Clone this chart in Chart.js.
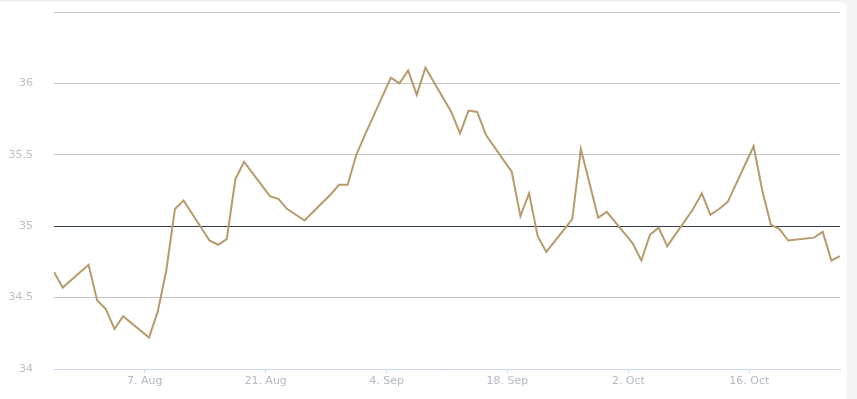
<!DOCTYPE html>
<html>
<head>
<meta charset="utf-8">
<script src="https://cdn.jsdelivr.net/npm/chart.js@4/dist/chart.umd.min.js"></script>
<style>
    html, body { margin: 0; padding: 0; background: #f4f4f4; }
    #card { position: absolute; left: 0; top: 2px; width: 847px; height: 397px; background: #fff; border-top-right-radius: 6px; }
    #wrap { position: absolute; left: 0; top: 0; width: 857px; height: 399px; }
</style>
</head>
<body>
<div id="card"></div>
<div id="wrap"><canvas id="chart" width="857" height="399"></canvas></div>
<script>
// Trading days and closing values
const dates = [
    '2017-07-27', '2017-07-28', '2017-07-31', '2017-08-01', '2017-08-02', '2017-08-03', '2017-08-04',
    '2017-08-07', '2017-08-08', '2017-08-09', '2017-08-10', '2017-08-11',
    '2017-08-14', '2017-08-15', '2017-08-16', '2017-08-17', '2017-08-18',
    '2017-08-21', '2017-08-22', '2017-08-23', '2017-08-24', '2017-08-25',
    '2017-08-28', '2017-08-29', '2017-08-30', '2017-08-31', '2017-09-01',
    '2017-09-04', '2017-09-05', '2017-09-06', '2017-09-07', '2017-09-08',
    '2017-09-11', '2017-09-12', '2017-09-13', '2017-09-14', '2017-09-15',
    '2017-09-18', '2017-09-19', '2017-09-20', '2017-09-21', '2017-09-22',
    '2017-09-25', '2017-09-26', '2017-09-27', '2017-09-28', '2017-09-29',
    '2017-10-02', '2017-10-03', '2017-10-04', '2017-10-05', '2017-10-06',
    '2017-10-09', '2017-10-10', '2017-10-11', '2017-10-12', '2017-10-13',
    '2017-10-16', '2017-10-17', '2017-10-18', '2017-10-19', '2017-10-20',
    '2017-10-23', '2017-10-24', '2017-10-25', '2017-10-26'
];
const values = [
    34.68, 34.57, 34.73, 34.48, 34.42, 34.28, 34.37,
    34.22, 34.40, 34.69, 35.12, 35.18,
    34.90, 34.87, 34.91, 35.33, 35.45,
    35.21, 35.19, 35.12, 35.08, 35.04,
    35.22, 35.29, 35.29, 35.50, 35.64,
    36.04, 36.00, 36.09, 35.92, 36.11,
    35.80, 35.65, 35.81, 35.80, 35.64,
    35.38, 35.07, 35.23, 34.93, 34.82,
    35.05, 35.54, 35.30, 35.06, 35.10,
    34.88, 34.76, 34.94, 34.99, 34.86,
    35.12, 35.23, 35.08, 35.12, 35.17,
    35.56, 35.25, 35.01, 34.98, 34.90,
    34.92, 34.96, 34.76, 34.79
];
const tickDates = ['2017-08-07', '2017-08-21', '2017-09-04', '2017-09-18', '2017-10-02', '2017-10-16'];
const yTicks = [34, 34.5, 35, 35.5, 36, 36.5];
const yLabels = ['34', '34.5', '35', '35.5', '36', ''];
const baseline = 35;

const DAY = 86400000;
const months = ['Jan', 'Feb', 'Mar', 'Apr', 'May', 'Jun', 'Jul', 'Aug', 'Sep', 'Oct', 'Nov', 'Dec'];

// days since epoch; data stamped at midday, ticks at midnight
function dayNum(str, hour) {
    return Date.parse(str + 'T00:00:00Z') / DAY + (hour || 0) / 24;
}

const points = dates.map((d, i) => ({ x: dayNum(d, 12), y: values[i] }));
const tickNums = tickDates.map(d => dayNum(d));

function fmtDay(v) {
    const d = new Date(Math.round(v) * DAY);
    return d.getUTCDate() + '. ' + months[d.getUTCMonth()];
}

new Chart(document.getElementById('chart'), {
    type: 'line',
    data: {
        datasets: [{
            data: points,
            borderColor: '#b89b6c',
            borderWidth: 2,
            pointRadius: 0,
            tension: 0,
            fill: false
        }]
    },
    options: {
        responsive: false,
        animation: false,
        events: [],
        layout: { padding: { left: 0, right: 17, top: 12, bottom: 0 } },
        plugins: { legend: { display: false }, tooltip: { enabled: false } },
        scales: {
            x: {
                type: 'linear',
                min: points[0].x,
                max: points[points.length - 1].x,
                afterBuildTicks: scale => { scale.ticks = tickNums.map(v => ({ value: v })); },
                afterFit: scale => { scale.height = 30; },
                grid: { drawOnChartArea: false, drawTicks: true, tickLength: 4, color: '#ccd6eb' },
                border: { color: '#ccd6eb', width: 1 },
                ticks: {
                    callback: v => fmtDay(v),
                    color: '#b3b9c4',
                    padding: 2,
                    maxRotation: 0,
                    autoSkip: false,
                    font: { family: 'DejaVu Sans', size: 11 }
                }
            },
            y: {
                min: 34,
                max: 36.5,
                afterBuildTicks: scale => { scale.ticks = yTicks.map(v => ({ value: v })); },
                afterFit: scale => {
                    scale.width = 54;
                    scale.paddingTop = 0;
                    scale.paddingBottom = 0;
                },
                grid: {
                    drawTicks: false,
                    color: ctx => ctx.tick && ctx.tick.value === baseline ? '#2c3e50' : '#c4c4c4',
                    lineWidth: 1
                },
                border: { display: false },
                ticks: {
                    callback: (v, i) => yLabels[i],
                    color: '#c0c0c0',
                    padding: 21,
                    font: { family: 'DejaVu Sans', size: 11 }
                }
            }
        }
    }
});
</script>
</body>
</html>
